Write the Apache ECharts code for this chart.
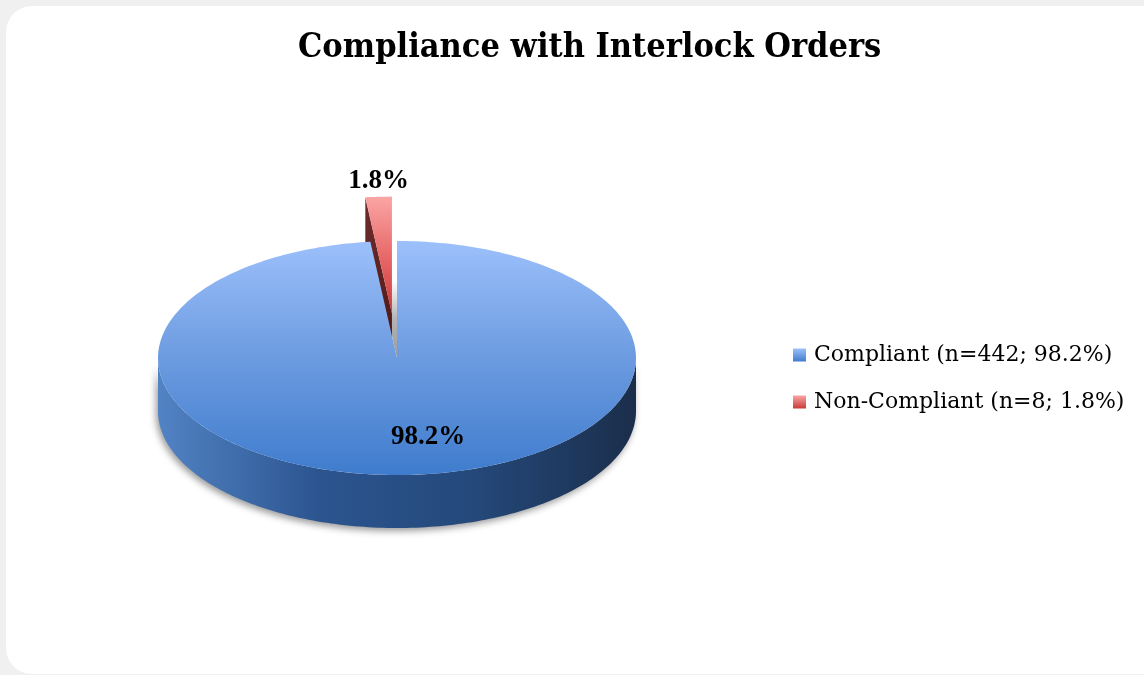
<!DOCTYPE html>
<html>
<head>
<meta charset="utf-8">
<script src="https://cdn.jsdelivr.net/npm/echarts@6/dist/echarts.min.js"></script>
<style>
  html, body { margin: 0; padding: 0; background: #f0f0f0; }
  #chart { width: 1144px; height: 675px; }
</style>
</head>
<body>
<div id="chart"></div>
<script>
const categories = ['Compliant', 'Non-Compliant'];
const counts = [442, 8];
const percents = [98.2, 1.8];
const explode = [0, 0.38];

const total = counts.reduce((a, b) => a + b, 0);
const starts = counts.map((c, i) => counts.slice(0, i).reduce((a, b) => a + b, 0));

// 3d pie layout (top ellipse + wall height)
const PIE = { cx: 397, cy: 358, rx: 239, ry: 117, depth: 53 };
const TAU = Math.PI * 2;

function slice(i, value, exp) {
    const s = starts[i] / total * TAU;
    const e = s + value / total * TAU;
    const mid = (s + e) / 2;
    const ox = exp * Math.sin(mid), oy = exp * Math.cos(mid);
    const p = (t, r, z) => [
        PIE.cx + (r * Math.sin(t) + ox) * PIE.rx,
        PIE.cy - (r * Math.cos(t) + oy) * PIE.ry + z * PIE.depth
    ];
    const arc = (a, b, z) => {
        const n = Math.max(2, Math.ceil((b - a) / 0.02));
        const pts = [];
        for (let k = 0; k <= n; k++) pts.push(p(a + (b - a) * k / n, 1, z));
        return pts;
    };
    return { s, e, mid, p, arc };
}

const lin = (x, y, x2, y2, stops) => new echarts.graphic.LinearGradient(x, y, x2, y2, stops.map((c, k) => ({ offset: k / (stops.length - 1), color: c })));

const look = [
    { top: ['#9cc0fb', '#6c9be0', '#3f7ccd'], wall: ['#5283c4', '#2c5590', '#244879', '#1b2e4b'], face: ['#c8c8c8', '#9a9a9a'] },
    { top: ['#fba5a5', '#e86a6a', '#c93a3a'], wall: ['#a03030', '#5a1515'], face: ['#6e2d2d', '#4a1414'] }
];

const labelStyle = { fontFamily: "'Liberation Serif', 'Times New Roman', serif", fontWeight: 'bold', fontSize: 27, fill: '#000', align: 'center' };

// walls + cut faces
function renderBody(i) {
    return function (params, api) {
        const sl = slice(i, api.value(0), explode[i]);
        const children = [];
        if (explode[i] > 0) {
            // hole left where the exploded slice was
            const hole = slice(i, api.value(0), 0);
            children.push({
                type: 'polygon',
                shape: { points: [hole.p(0, 0, 0)].concat(hole.arc(hole.s, hole.e, 0)) },
                style: { fill: lin(0, 0, 0, 1, ['#ffffff', '#ffffff', '#b4b4b4', '#9a9a9a']) }
            });
        }
        const a = Math.max(sl.s, Math.PI / 2), b = Math.min(sl.e, Math.PI * 1.5);
        if (a < b) {
            children.push({
                type: 'polygon',
                shape: { points: sl.arc(a, b, 0).concat(sl.arc(a, b, 1).reverse()) },
                style: {
                    fill: lin(0, 0, 1, 0, look[i].wall),
                    shadowBlur: 7, shadowColor: 'rgba(0,0,0,0.4)', shadowOffsetX: -2, shadowOffsetY: 3
                }
            });
        }
        [[sl.s, Math.sin(sl.s) < -1e-6], [sl.e, Math.sin(sl.e) > 1e-6]].forEach(([t, vis]) => {
            if (!vis) return;
            children.push({
                type: 'polygon',
                shape: { points: [sl.p(t, 0, 0), sl.p(t, 1, 0), sl.p(t, 1, 1), sl.p(t, 0, 1)] },
                style: { fill: lin(0, 0, 0, 1, look[i].face) }
            });
        });
        if (explode[i] > 0) {
            children.push({
                type: 'polygon',
                shape: { points: [sl.p(0, 0, 0)].concat(sl.arc(sl.s, sl.e, 0)) },
                style: { fill: lin(0, 0, 0, 1, look[i].top) }
            });
            const lp = sl.p(sl.mid, 1, 0);
            children.push({
                type: 'text', x: lp[0], y: lp[1] - 2,
                style: { ...labelStyle, text: percents[i].toFixed(1) + '%', verticalAlign: 'bottom' }
            });
        }
        return { type: 'group', children };
    };
}

// top face of the non-exploded slice, drawn over everything
function renderTop(i) {
    return function (params, api) {
        const sl = slice(i, api.value(0), explode[i]);
        const lp = sl.p(sl.mid, 0.68, 0);
        return {
            type: 'group',
            children: [
                {
                    type: 'polygon',
                    shape: { points: [sl.p(0, 0, 0)].concat(sl.arc(sl.s, sl.e, 0)) },
                    style: { fill: lin(0, 0, 0, 1, look[i].top) }
                },
                {
                    type: 'text', x: lp[0] + 22, y: lp[1],
                    style: { ...labelStyle, text: percents[i].toFixed(1) + '%', verticalAlign: 'middle' }
                }
            ]
        };
    };
}

const legendColor = [lin(0, 0, 0, 1, ['#9cc0fb', '#3f7ccd']), lin(0, 0, 0, 1, ['#fba5a5', '#c93a3a'])];

const chart = echarts.init(document.getElementById('chart'), null, { renderer: 'canvas' });
chart.setOption({
    backgroundColor: '#f0f0f0',
    animation: false,
    graphic: [{
        type: 'rect', z: -10, silent: true,
        shape: { x: 6, y: 6, width: 1170, height: 668, r: 26 },
        style: { fill: '#ffffff' }
    }],
    title: {
        text: 'Compliance with Interlock Orders',
        left: 298, top: 31, padding: 0,
        textStyle: { fontFamily: "'DejaVu Serif Condensed', 'DejaVu Serif', serif", fontWeight: 'bold', fontSize: 34, color: '#000' }
    },
    legend: {
        orient: 'vertical', left: 793, top: 344, padding: 0,
        icon: 'rect', itemWidth: 13, itemHeight: 13, itemGap: 25,
        data: categories,
        formatter: (name) => {
            const i = categories.indexOf(name);
            return `${name} (n=${counts[i]}; ${percents[i]}%)`;
        },
        textStyle: { fontFamily: "'DejaVu Serif', serif", fontSize: 22, color: '#000', padding: [0, 0, 0, 3] }
    },
    series: [
        { type: 'custom', name: categories[0], coordinateSystem: 'none', z: 1, silent: true, itemStyle: { color: legendColor[0] }, renderItem: renderBody(0), data: [[counts[0]]] },
        { type: 'custom', name: categories[1], coordinateSystem: 'none', z: 2, silent: true, itemStyle: { color: legendColor[1] }, renderItem: renderBody(1), data: [[counts[1]]] },
        { type: 'custom', name: categories[0], coordinateSystem: 'none', z: 3, silent: true, itemStyle: { color: legendColor[0] }, renderItem: renderTop(0), data: [[counts[0]]] }
    ]
});
</script>
</body>
</html>
